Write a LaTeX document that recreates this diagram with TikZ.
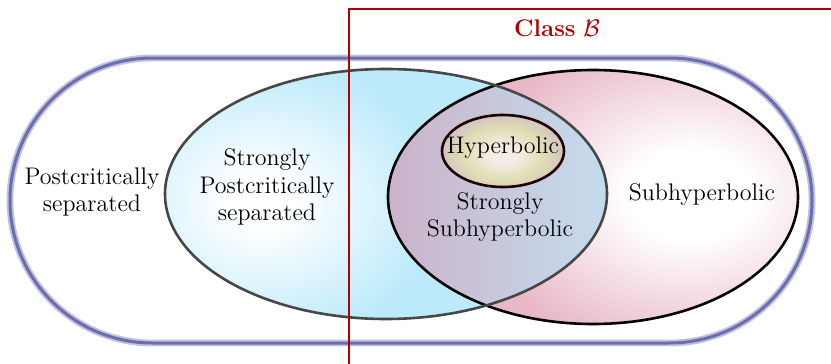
\documentclass[tikz,border=0pt]{standalone}
\usetikzlibrary{shapes.misc}
\definecolor{stadglow}{HTML}{C0C0E0}
\definecolor{stadcore}{HTML}{6C6CAE}
\definecolor{bluefill}{HTML}{BCEAFB}
\definecolor{pinkfill}{HTML}{E8B8C7}
\definecolor{interL}{HTML}{CBB2C8}
\definecolor{interR}{HTML}{C4DDEE}
\definecolor{hypin}{HTML}{F5ECE6}
\definecolor{hypmid}{HTML}{E0DDB2}
\definecolor{hypout}{HTML}{D0BEC6}
\definecolor{classred}{HTML}{B00000}
\pgfdeclareradialshading{blueshade}{\pgfpoint{0bp}{0bp}}{color(0bp)=(white); color(4bp)=(white); color(22bp)=(bluefill); color(50bp)=(bluefill)}
\pgfdeclareradialshading{pinkshade}{\pgfpoint{0bp}{0bp}}{color(0bp)=(white); color(7bp)=(white); color(25bp)=(pinkfill); color(50bp)=(pinkfill)}
\pgfdeclareradialshading{hypshade}{\pgfpoint{0bp}{0bp}}{color(0bp)=(hypin); color(5bp)=(hypin); color(15bp)=(hypmid); color(24bp)=(hypout); color(50bp)=(hypout)}
\tikzset{
  lbl/.style={font=\fontsize{12}{13.8}\selectfont, align=center, inner sep=0pt},
  setline/.style={line width=1.3pt},
  stad/.style={rounded rectangle, minimum width=401pt, minimum height=142.5pt, inner sep=0pt},
}
\begin{document}
\begin{tikzpicture}[x=0.5pt,y=-0.5pt]
\useasboundingbox (0,0) rectangle (831,364);
% outer stadium (postcritically separated)
\node[stad, draw=stadglow, line width=3.4pt] (stadium) at (411,200.5) {};
\node[stad, draw=stadcore, line width=1.5pt] (stadiumcore) at (411,200.5) {};
% subhyperbolic (pink)
\begin{scope}
  \clip (593,197) ellipse [x radius=102.5pt, y radius=63.5pt];
  \fill[pinkfill] (593,197) ellipse [x radius=103pt, y radius=64pt];
  \shade[shading=pinkshade] (690,195) ellipse [x radius=112pt, y radius=80pt];
\end{scope}
% strongly postcritically separated (blue)
\begin{scope}
  \clip (386,194) ellipse [x radius=110.5pt, y radius=62.5pt];
  \fill[bluefill] (386,194) ellipse [x radius=111pt, y radius=63pt];
  \shade[shading=blueshade] (262,202) ellipse [x radius=100pt, y radius=80pt];
\end{scope}
% intersection
\begin{scope}
  \clip (593,197) ellipse [x radius=102.5pt, y radius=63.5pt];
  \clip (386,194) ellipse [x radius=110.5pt, y radius=62.5pt];
  \shade[left color=interL, right color=interR] (385,60) rectangle (610,330);
\end{scope}
% hyperbolic
\begin{scope}
  \clip (503,151) ellipse [x radius=30.5pt, y radius=18pt];
  \shade[shading=hypshade] (503,154) ellipse [x radius=34pt, y radius=22pt];
\end{scope}
% outlines
\draw[setline, black] (593,197) ellipse [x radius=102.5pt, y radius=63.5pt];
\draw[setline, black!72] (386,194) ellipse [x radius=110.5pt, y radius=62.5pt];
\draw[setline, black!80!red!60!black] (503,151) ellipse [x radius=30.5pt, y radius=18pt];
% class B frame
\draw[classred, line width=1.1pt] (349,372) -- (349,9) -- (840,9);
% labels
\node[lbl, text=classred] (classb) at (557,28) {\textbf{Class} $\mathcal{B}$};
\node[lbl] (ps) at (92,192) {Postcritically\\separated};
\node[lbl] (sps) at (267,187) {Strongly\\Postcritically\\separated};
\node[lbl] (hyp) at (503,148) {Hyperbolic};
\node[lbl] (ssh) at (500,217) {Strongly\\Subhyperbolic};
\node[lbl] (sh) at (702,194) {Subhyperbolic};
\end{tikzpicture}
\end{document}
